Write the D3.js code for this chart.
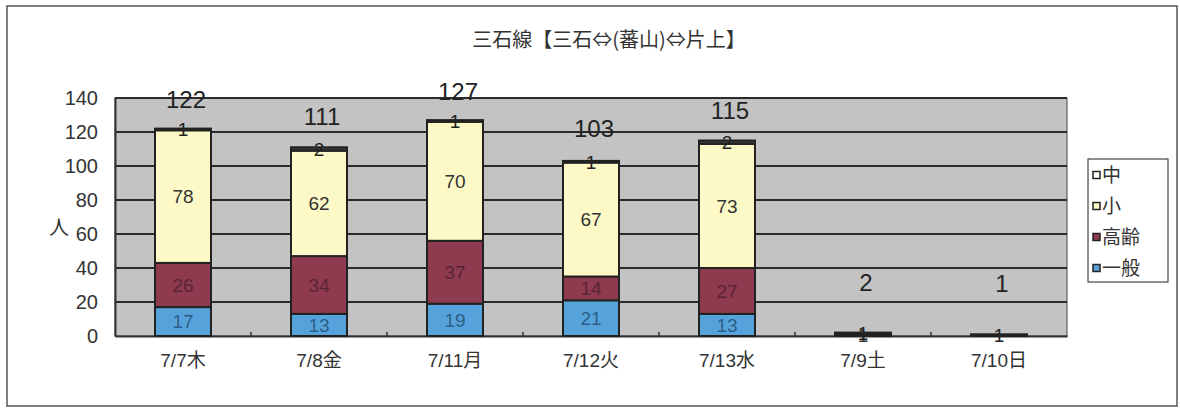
<!DOCTYPE html>
<html><head><meta charset="utf-8">
<script src="https://cdn.jsdelivr.net/npm/d3@7"></script>
<style>body{margin:0;background:#fff}svg{display:block}</style>
</head><body>
<svg id="c" width="1180" height="412"></svg>
<script>
const categories = ["7/7木","7/8金","7/11月","7/12火","7/13水","7/9土","7/10日"];
const seriesNames = ["一般","高齢","小","中"];
const ippan  = [17,13,19,21,13,0,0];
const kourei = [26,34,37,14,27,0,0];
const shou   = [78,62,70,67,73,1,0];
const chuu   = [1,2,1,1,2,1,1];
const totals = [122,111,127,103,115,2,1];
const yTicks = [0,20,40,60,80,100,120,140];
const title = "三石線【三石⇔(蕃山)⇔片上】";

const colors = {"一般":"#56a3dc","高齢":"#8e3b4f","小":"#fdf9c6","中":"#3a3a3a"};
const legendColors = {"一般":"#56a3dc","高齢":"#8e3b4f","小":"#fdf9c6","中":"#ffffff"};
const textColors = {"一般":"#2d5f88","高齢":"#5a2533","小":"#333","中":"#222"};
const FONT = "'Liberation Sans','Noto Sans CJK JP',Arial,sans-serif";
const CJK = "'Noto Sans CJK JP','Liberation Sans',sans-serif";

const svg = d3.select("#c");
const L = 115, R = 1067, T = 98, B = 336;

svg.append("rect").attr("x",7).attr("y",6).attr("width",1170).attr("height",400)
  .attr("fill","#fff").attr("stroke","#555").attr("stroke-width",1.5);

const x = d3.scaleBand().domain(categories).range([L,R]).paddingInner(0).paddingOuter(0);
const y = d3.scaleLinear().domain([0,140]).range([B,T]);
const totalY = d3.scaleLinear().domain([0,140]).range([B-51, T-26]);
const barW = 56;

svg.append("rect").attr("x",L).attr("y",T).attr("width",R-L).attr("height",B-T)
  .attr("fill","#c3c3c3").attr("stroke","#444").attr("stroke-width",1);

svg.append("g").selectAll("line").data(yTicks.filter(d=>d>0)).join("line")
  .attr("x1",L).attr("x2",R).attr("y1",d=>y(d)).attr("y2",d=>y(d))
  .attr("stroke","#2b2b2b").attr("stroke-width",2);

const yAxis = svg.append("g").attr("transform",`translate(${L},0)`)
  .call(d3.axisLeft(y).tickValues(yTicks).tickSize(0).tickPadding(17));
yAxis.select(".domain").attr("stroke","#333").attr("stroke-width",2);
yAxis.selectAll("text").attr("font-family",FONT).attr("font-size",20).attr("fill","#333");

const xAxis = svg.append("g").attr("transform",`translate(0,${B})`)
  .call(d3.axisBottom(x).tickSize(0).tickPadding(18));
xAxis.select(".domain").attr("stroke","#333").attr("stroke-width",2);
xAxis.selectAll("text").attr("font-family",FONT).attr("font-size",19).attr("fill","#333");
svg.append("g").selectAll("line").data(categories.slice(1)).join("line")
  .attr("x1",d=>x(d)).attr("x2",d=>x(d)).attr("y1",B).attr("y2",B-4)
  .attr("stroke","#333").attr("stroke-width",1.5);

const rows = categories.map((c,i)=>({cat:c,"一般":ippan[i],"高齢":kourei[i],"小":shou[i],"中":chuu[i]}));
const stack = d3.stack().keys(seriesNames)(rows);

const gBars = svg.append("g");
stack.forEach(layer=>{
  const key = layer.key;
  layer.forEach(d=>{
    const v = d[1]-d[0];
    if(v<=0) return;
    gBars.append("rect")
      .attr("x", x(d.data.cat)+x.bandwidth()/2-barW/2)
      .attr("width", barW)
      .attr("y", y(d[1]))
      .attr("height", y(d[0])-y(d[1]))
      .attr("fill", colors[key]).attr("stroke","#222").attr("stroke-width",2);
  });
});
stack.forEach(layer=>{
  const key = layer.key;
  layer.forEach(d=>{
    const v = d[1]-d[0];
    if(v<=0) return;
    svg.append("text")
      .attr("x", x(d.data.cat)+x.bandwidth()/2)
      .attr("y", y((d[0]+d[1])/2))
      .attr("dy","0.36em").attr("text-anchor","middle")
      .attr("font-family",FONT).attr("font-size",19)
      .attr("fill", textColors[key]).text(v);
  });
});

svg.append("g").selectAll("text").data(totals).join("text")
  .attr("x",(d,i)=>x(categories[i])+x.bandwidth()/2+3)
  .attr("y",d=>totalY(d)).attr("dy","0.36em").attr("text-anchor","middle")
  .attr("font-family",FONT).attr("font-size",24).attr("fill","#222").text(d=>d);

svg.append("text").attr("x",59).attr("y",228).attr("dy","0.36em").attr("text-anchor","middle")
  .attr("font-family",CJK).attr("font-size",20).attr("fill","#333").text("人");

svg.append("text").attr("x",609).attr("y",40).attr("dy","0.36em").attr("text-anchor","middle")
  .attr("font-family",CJK).attr("font-size",20).attr("fill","#333").text(title);

const lg = svg.append("g");
lg.append("rect").attr("x",1088).attr("y",159).attr("width",80).attr("height",123)
  .attr("fill","#fff").attr("stroke","#444").attr("stroke-width",1.2);
const legendOrder = ["中","小","高齢","一般"];
const ly = d3.scalePoint().domain(legendOrder).range([175,268]);
legendOrder.forEach(k=>{
  lg.append("rect").attr("x",1093).attr("y",ly(k)-3.5).attr("width",7).attr("height",7)
    .attr("fill",legendColors[k]).attr("stroke","#222").attr("stroke-width",1.5);
  lg.append("text").attr("x",1102).attr("y",ly(k)).attr("dy","0.36em")
    .attr("font-family",CJK).attr("font-size",19).attr("fill","#333").text(k);
});
</script>
</body></html>
